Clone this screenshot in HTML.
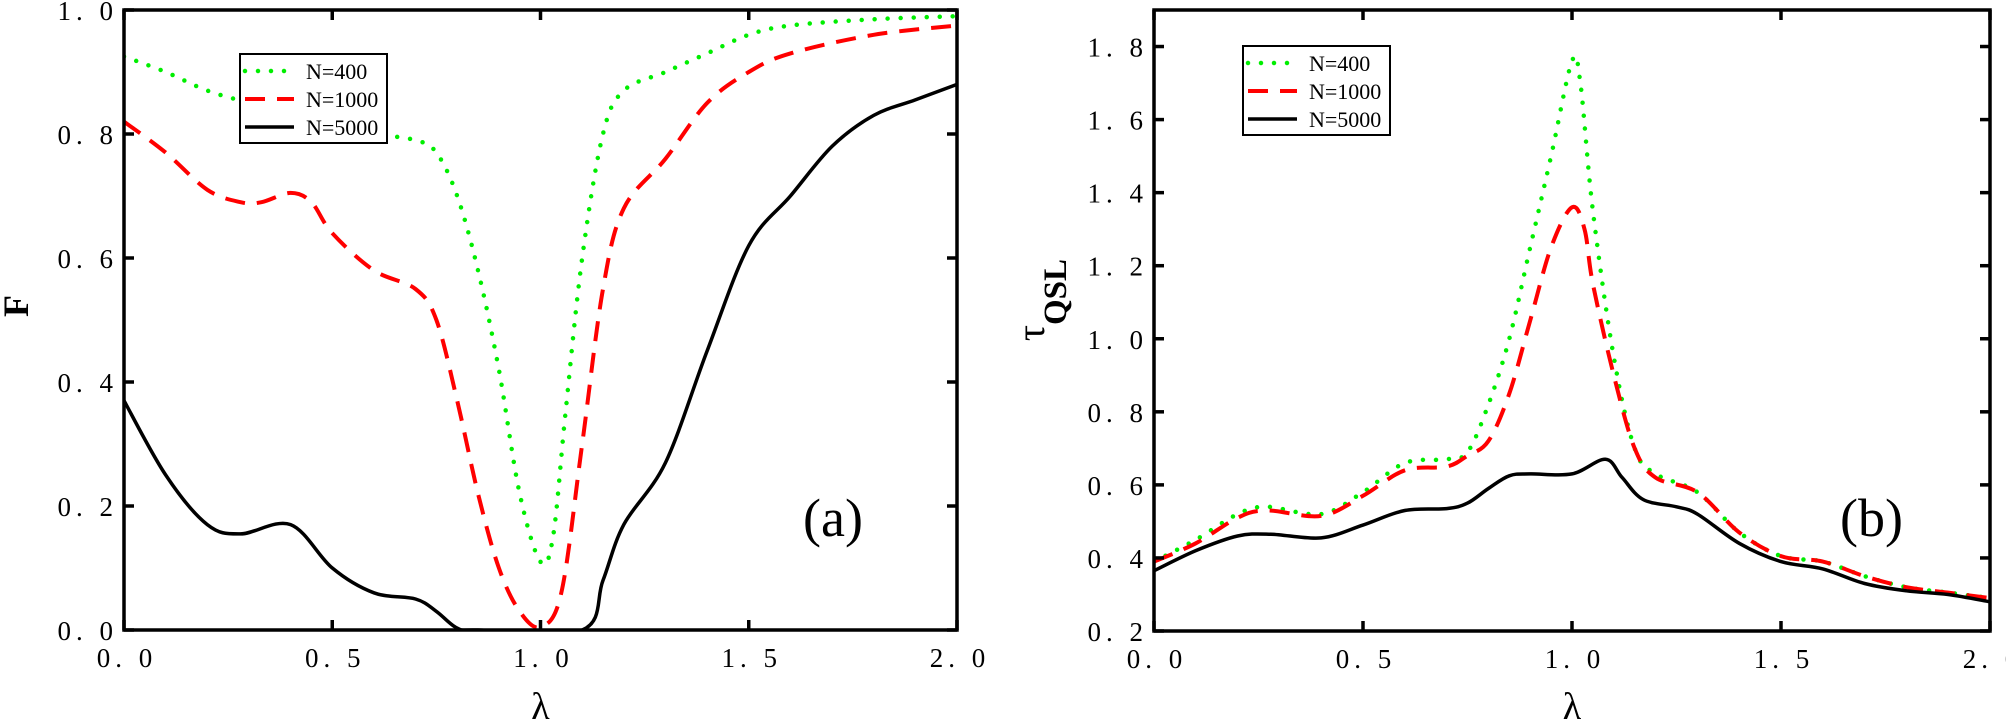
<!DOCTYPE html>
<html><head><meta charset="utf-8"><style>
html,body{margin:0;padding:0;background:#fff;}
svg{display:block;}
text{font-family:"Liberation Serif",serif;fill:#000;}
</style></head><body>
<svg id="s" width="2006" height="724" viewBox="0 0 2006 724" xmlns="http://www.w3.org/2000/svg"></svg>
<script>
const S=document.getElementById('s');
let h='';
function P(pts,X,Y){
  const p=pts.map(a=>[X(a[0]),Y(a[1])]);
  let d='M'+p[0][0].toFixed(1)+','+p[0][1].toFixed(1);
  for(let i=0;i<p.length-1;i++){
    const p0=p[Math.max(0,i-1)],p1=p[i],p2=p[i+1],p3=p[Math.min(p.length-1,i+2)];
    const c1=[p1[0]+(p2[0]-p0[0])/6,p1[1]+(p2[1]-p0[1])/6];
    const c2=[p2[0]-(p3[0]-p1[0])/6,p2[1]-(p3[1]-p1[1])/6];
    d+=`C${c1[0].toFixed(1)},${c1[1].toFixed(1)} ${c2[0].toFixed(1)},${c2[1].toFixed(1)} ${p2[0].toFixed(1)},${p2[1].toFixed(1)}`;
  }
  return d;
}
const G='stroke="#00ee00" stroke-width="4.5" stroke-linecap="round" stroke-dasharray="0 13" fill="none"';
const R='stroke="#ff0000" stroke-width="4" stroke-dasharray="20 12" fill="none"';
const K='stroke="#000" stroke-width="3.5" fill="none"';
function lbl(v){return v.toFixed(1).replace('.','. ');}
function panel(x0,x1,y0,y1,ymin,ymax,yt,ylab,series,lab,lx,leg){
  const X=v=>x0+(x1-x0)*v/2, Y=v=>y1-(y1-y0)*(v-ymin)/(ymax-ymin);
  h+=`<clipPath id="c${x0}"><rect x="${x0}" y="${y0}" width="${x1-x0}" height="${y1-y0}"/></clipPath><g clip-path="url(#c${x0})">`;
  h+=`<path d="${P(series[0],X,Y)}" ${G}/><path d="${P(series[1],X,Y)}" ${R}/><path d="${P(series[2],X,Y)}" ${K}/></g>`;
  h+=`<rect x="${x0}" y="${y0}" width="${x1-x0}" height="${y1-y0}" fill="none" stroke="#000" stroke-width="3.5"/>`;
  [0,0.5,1,1.5,2].forEach(v=>{const x=X(v);
    h+=`<line x1="${x}" y1="${y1}" x2="${x}" y2="${y1-10}" stroke="#000" stroke-width="3.5"/><line x1="${x}" y1="${y0}" x2="${x}" y2="${y0+10}" stroke="#000" stroke-width="3.5"/>`;
    h+=`<text x="${x+3}" y="${y1+37}" font-size="27" text-anchor="middle" letter-spacing="5">${lbl(v)}</text>`;});
  yt.forEach(v=>{const y=Y(v);
    h+=`<line x1="${x0}" y1="${y}" x2="${x0+10}" y2="${y}" stroke="#000" stroke-width="3.5"/><line x1="${x1}" y1="${y}" x2="${x1-10}" y2="${y}" stroke="#000" stroke-width="3.5"/>`;
    h+=`<text x="${x0-6}" y="${y+10}" font-size="27" text-anchor="end" letter-spacing="5">${lbl(v)}</text>`;});
  h+=`<text x="${(x0+x1)/2}" y="719" font-size="38" text-anchor="middle">λ</text>`;
  h+=ylab;
  h+=`<text x="${lx}" y="536" font-size="54">${lab}</text>`;
  const [bx,by]=leg;
  h+=`<rect x="${bx}" y="${by}" width="147" height="89" fill="#fff" stroke="#000" stroke-width="2"/>`;
  ['N=400','N=1000','N=5000'].forEach((t,i)=>{const y=by+17+i*28;
    h+=`<line x1="${bx+5}" y1="${y}" x2="${bx+54}" y2="${y}" ${[G,R,K][i]}/><text x="${bx+66}" y="${y+8}" font-size="22">${t}</text>`;});
}
panel(124,957,10,630,0,1,[0,0.2,0.4,0.6,0.8,1.0],
 `<text transform="translate(28,306) rotate(-90)" font-size="36" font-weight="bold" text-anchor="middle">F</text>`,
 [[[0,.925],[.1,.9],[.2,.87],[.3,.85],[.4,.83],[.5,.81],[.6,.8],[.7,.79],[.75,.77],[.8,.7],[.85,.58],[.9,.42],[.95,.22],[1,.11],[1.03,.15],[1.06,.35],[1.1,.6],[1.15,.8],[1.2,.87],[1.3,.9],[1.4,.93],[1.5,.96],[1.6,.975],[1.8,.985],[2,.99]],
  [[0,.82],[.1,.77],[.2,.71],[.28,.69],[.33,.69],[.4,.705],[.45,.69],[.5,.64],[.6,.58],[.7,.55],[.75,.5],[.8,.37],[.85,.22],[.9,.1],[.95,.03],[1,.005],[1.05,.06],[1.1,.3],[1.15,.55],[1.2,.68],[1.3,.76],[1.4,.85],[1.5,.9],[1.6,.93],[1.8,.96],[2,.975]],
  [[0,.37],[.1,.25],[.2,.17],[.28,.155],[.4,.17],[.5,.1],[.6,.06],[.7,.05],[.75,.03],[.8,.003],[.85,0],[1.1,0],[1.15,.08],[1.2,.17],[1.3,.27],[1.4,.45],[1.5,.62],[1.6,.7],[1.7,.78],[1.8,.83],[1.9,.855],[2,.88]]],
 '(a)',803,[240,54]);
panel(1154,1990,10,631,0.2,1.9,[0.2,0.4,0.6,0.8,1.0,1.2,1.4,1.6,1.8],
 `<text transform="translate(1044,300) rotate(-90)" font-size="40" text-anchor="middle">τ<tspan font-size="33" font-weight="bold" dy="22">QSL</tspan></text>`,
 [[[0,.39],[.1,.45],[.2,.52],[.27,.54],[.4,.52],[.5,.58],[.6,.66],[.7,.67],[.75,.69],[.8,.82],[.85,1],[.9,1.25],[.95,1.5],[1,1.76],[1.02,1.7],[1.05,1.35],[1.1,.95],[1.15,.7],[1.2,.63],[1.3,.58],[1.4,.47],[1.5,.405],[1.6,.39],[1.7,.35],[1.8,.32],[1.9,.305],[2,.29]],
  [[0,.39],[.1,.44],[.2,.51],[.27,.53],[.4,.515],[.5,.57],[.6,.64],[.7,.65],[.75,.68],[.8,.72],[.85,.85],[.9,1.05],[.95,1.25],[1,1.36],[1.03,1.3],[1.05,1.15],[1.1,.9],[1.15,.7],[1.2,.62],[1.3,.58],[1.4,.47],[1.5,.405],[1.6,.39],[1.7,.35],[1.8,.32],[1.9,.305],[2,.29]],
  [[0,.365],[.1,.42],[.2,.46],[.28,.465],[.4,.455],[.5,.49],[.6,.53],[.7,.535],[.75,.55],[.8,.59],[.85,.625],[.9,.63],[1,.63],[1.08,.67],[1.12,.62],[1.17,.56],[1.25,.54],[1.3,.52],[1.4,.44],[1.5,.39],[1.6,.37],[1.7,.33],[1.8,.31],[1.9,.3],[2,.28]]],
 '(b)',1840,[1243,46]);
S.innerHTML=h;
</script>
</body></html>
